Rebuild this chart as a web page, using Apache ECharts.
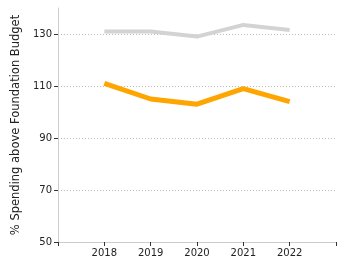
<!DOCTYPE html>
<html><head><meta charset="utf-8">
<script src="https://cdn.jsdelivr.net/npm/echarts@6/dist/echarts.min.js"></script>
<style>html,body{margin:0;padding:0;background:#fff}#c{width:350px;height:275px}</style>
</head><body><div id="c"></div>
<script>
const years = [2018, 2019, 2020, 2021, 2022];
const xTicks = [2017, 2018, 2019, 2020, 2021, 2022, 2023];
const grayValues = [131, 131, 129, 133.5, 131.5];
const orangeValues = [111, 105, 103, 109, 104];
const yTicks = [50, 70, 90, 110, 130];
const yName = '% Spending above Foundation Budget';

const font = 'DejaVu Sans, Verdana, sans-serif';
const chart = echarts.init(document.getElementById('c'), null, {renderer: 'canvas'});
chart.setOption({
  animation: false,
  grid: {left: 58, right: 14, top: 8, bottom: 33},
  xAxis: {
    type: 'value', min: 2017, max: 2023, interval: 1,
    axisLine: {lineStyle: {color: '#cccccc'}},
    axisTick: {length: 4, lineStyle: {color: '#333'}, customValues: xTicks},
    axisLabel: {color: '#222', fontFamily: font, fontSize: 10, margin: 6,
      customValues: years, formatter: v => String(v)},
    splitLine: {show: false}
  },
  yAxis: {
    type: 'value', min: 50, max: 140, interval: 20,
    name: yName, nameLocation: 'middle', nameGap: 34,
    nameTextStyle: {color: '#222', fontFamily: font, fontSize: 11.5},
    axisLine: {show: true, lineStyle: {color: '#cccccc'}},
    axisTick: {show: true, length: 4, lineStyle: {color: '#333'}, customValues: yTicks},
    axisLabel: {color: '#222', fontFamily: font, fontSize: 10, margin: 6, customValues: yTicks},
    splitLine: {show: true, showMinLine: false,
      lineStyle: {color: '#bbbbbb', type: [1, 2], width: 1}}
  },
  series: [
    {type: 'line', data: years.map((y, i) => [y, grayValues[i]]), symbol: 'none',
      lineStyle: {color: '#d3d3d3', width: 4}, itemStyle: {color: '#d3d3d3'}},
    {type: 'line', data: years.map((y, i) => [y, orangeValues[i]]), symbol: 'none',
      lineStyle: {color: '#ffa500', width: 5}, itemStyle: {color: '#ffa500'}}
  ]
});
</script></body></html>
